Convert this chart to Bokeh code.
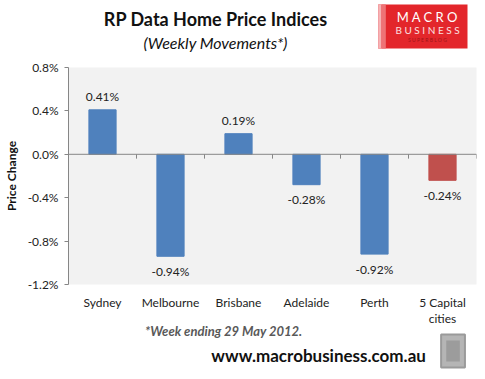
from bokeh.plotting import figure
from bokeh.layouts import column
from bokeh.models import Range1d, FixedTicker, PrintfTickFormatter, Span, ColumnDataSource
from bokeh.core.properties import value
from bokeh.embed import file_html
from bokeh.resources import INLINE

cities = ["Sydney", "Melbourne", "Brisbane", "Adelaide", "Perth", "5 Capital\ncities"]
changes = [0.41, -0.94, 0.19, -0.28, -0.92, -0.24]
bar_colors = ["#4F81BD", "#4F81BD", "#4F81BD", "#4F81BD", "#4F81BD", "#C0504D"]
y_ticks = [-1.2, -0.8, -0.4, 0.0, 0.4, 0.8]

FONT = "Lato"
W = 469


def deco(height, y0, y1, transparent=False):
    f = figure(width=W, height=height, output_backend="svg", toolbar_location=None,
               x_range=Range1d(8, 8 + W), y_range=Range1d(y1, y0),
               x_axis_location=None, y_axis_location=None,
               min_border=0, min_border_left=0, min_border_right=0,
               min_border_top=0, min_border_bottom=0)
    f.outline_line_color = None
    f.background_fill_color = "white"
    f.border_fill_color = "white"
    if transparent:
        f.background_fill_alpha = 0
        f.border_fill_alpha = 0
    f.xgrid.visible = False
    f.ygrid.visible = False
    return f


def txt(f, t, x, y, size, style="normal", color="#111111", align="center"):
    f.text(x=[x], y=[y], text=[t], text_font=value(FONT), text_font_size=size,
           text_font_style=style, text_color=color, text_align=align,
           text_baseline="middle")


# ---------- header ----------
head = deco(59, 0, 59)
txt(head, "RP Data Home Price Indices", 181, 18, "18px", "bold")
txt(head, "(Weekly Movements*)", 181, 42, "16px", "italic")
head.quad(left=[372], right=[478], top=[4], bottom=[48], fill_color="#E3262B", line_color=None)
head.quad(left=[372], right=[376], top=[4], bottom=[48], fill_color="#F6B3B5", line_color=None)
head.quad(left=[376], right=[381], top=[4], bottom=[48], fill_color="#EE7376", line_color=None)
txt(head, "M A C R O", 430, 16, "13px", "normal", "white")
txt(head, "B U S I N E S S", 430, 29, "10px", "normal", "#FBE0E1")
txt(head, "S U P E R B L O G", 430, 39, "5px", "normal", "#A01518")

# ---------- main chart ----------
xs = [i + 0.5 for i in range(len(cities))]
labels = [f"{v:.2f}%" for v in changes]
offs = [-13 if v >= 0 else 15 for v in changes]
src = ColumnDataSource(dict(x=xs, top=changes, color=bar_colors, label=labels, off=offs))

BOTTOM = 60
p = figure(width=W, height=8 + 217 + BOTTOM, output_backend="svg", toolbar_location=None,
           x_range=Range1d(0, len(cities)), y_range=Range1d(-1.2, 0.8),
           min_border_left=59, min_border_right=2, min_border_top=8, min_border_bottom=BOTTOM)
p.frame_width = 408
p.frame_height = 217
p.background_fill_color = "#F2F2F2"
p.border_fill_color = "white"
p.outline_line_color = None
p.xgrid.visible = False
p.ygrid.visible = False

p.vbar(x="x", top="top", bottom=0, width=0.4, color="color", source=src)
p.text(x="x", y="top", text="label", y_offset="off", source=src,
       text_align="center", text_baseline="middle", text_font=value(FONT),
       text_font_size="12px", text_color="#222222")

p.add_layout(Span(location=0, dimension="width", line_color="#868686", line_width=1))
bx = list(range(len(cities) + 1))
p.segment(x0=bx, y0=[0] * len(bx), x1=bx, y1=[-0.04] * len(bx), line_color="#868686", line_width=1)

ya = p.yaxis[0]
ya.ticker = FixedTicker(ticks=y_ticks)
ya.formatter = PrintfTickFormatter(format="%.1f%%")
ya.axis_line_color = "#868686"
ya.major_tick_line_color = "#868686"
ya.major_tick_out = 4
ya.major_tick_in = 0
ya.minor_tick_line_color = None
ya.major_label_text_font = FONT
ya.major_label_text_font_size = "12px"
ya.major_label_text_color = "#222222"
ya.major_label_standoff = 6
ya.axis_label = "Price Change"
ya.axis_label_text_font = FONT
ya.axis_label_text_font_size = "12px"
ya.axis_label_text_font_style = "bold"
ya.axis_label_text_color = "#111111"
ya.axis_label_standoff = 6

xa = p.xaxis[0]
xa.ticker = FixedTicker(ticks=xs)
xa.major_label_overrides = {x: c for x, c in zip(xs, cities)}
xa.axis_line_color = None
xa.major_tick_line_color = None
xa.major_tick_out = 0
xa.major_tick_in = 0
xa.minor_tick_line_color = None
xa.minor_tick_out = 0
xa.major_label_text_font = FONT
xa.major_label_text_font_size = "12px"
xa.major_label_text_line_height = 1.1
xa.major_label_text_color = "#222222"
xa.major_label_standoff = 10

# ---------- footer (transparent, overlapping the main figure's bottom border) ----------
FOOT_TOP = 317
FOOT_H = 54
foot = deco(FOOT_H, FOOT_TOP, FOOT_TOP + FOOT_H, transparent=True)
foot.margin = (FOOT_TOP - (59 + 8 + 217 + BOTTOM), 0, 0, 0)
txt(foot, "*Week ending 29 May 2012.", 98, 330, "13px", "bold italic", "#595959", "left")
txt(foot, "www.macrobusiness.com.au", 302, 355, "17px", "bold", "#111111")
foot.quad(left=[446], right=[474], top=[334], bottom=[367], fill_color="#B5B5B5",
          line_color="#9A9A9A", line_width=2)
foot.quad(left=[452], right=[468], top=[340], bottom=[361], fill_color="#8C8C8C",
          line_color=None, fill_alpha=0.6)

layout = column(head, p, foot, spacing=0)
open("out.html", "w").write(file_html(layout, INLINE))
